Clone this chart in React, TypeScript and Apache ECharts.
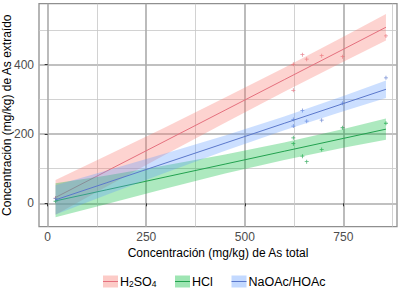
import React, { useEffect, useRef } from "react";
import * as echarts from "echarts";

// ---- data ----
const groupNames = ["H2SO4", "HCl", "NaOAc/HOAc"];
const legendLabels = ["{n|H}{s|2}{n|SO}{s|4}", "HCl", "NaOAc/HOAc"];
const lineColors = ["#E5707E", "#22A24F", "#5B78CC"];
const bandColors = ["#F8766D", "#00BA38", "#619CFF"];

const xTicks = [0, 250, 500, 750];
const xMinorTicks = [125, 375, 625, 875];
const yTicks = [0, 200, 400];
const yMinorTicks = [100, 300, 500];

// observed points
const ptX = [20, 623, 623, 646, 657, 695, 748, 858];
const ptH2SO4 = [15, 401, 326, 429, 416, 426, 423, 483];
const ptHCl = [6, 189, 172, 136, 120, 155, 218, 231];
const ptNaOAc = [14, 242, 223, 268, 237, 240, 289, 362];

// fitted lines and confidence bands
const fitX = [20, 150, 300, 450, 600, 750, 858];
const fitH2SO4 = [17, 93.2, 180.9, 268.8, 356.7, 444.6, 508.1];
const loH2SO4 = [-33, 48.5, 141.3, 232.6, 321.9, 408.7, 470.1];
const hiH2SO4 = [67, 137.9, 220.5, 305, 391.5, 480.5, 546.1];
const fitHCl = [7, 39.1, 76.2, 113.2, 150.3, 187.3, 214];
const loHCl = [-40, -2.2, 42.8, 85.7, 125.3, 160.3, 183.3];
const hiHCl = [58, 80.4, 109.6, 140.7, 175.3, 214.3, 244.7];
const fitNaOAc = [10, 59.5, 116.6, 173.7, 230.8, 287.9, 329];
const loNaOAc = [-32, 24.5, 88.8, 151.4, 210.8, 266, 303.6];
const hiNaOAc = [52, 94.5, 144.4, 196, 250.8, 309.8, 354.4];

const xMin = -22;
const xMax = 886;
const yMin = -67.5;
const yMax = 576;

const FONT = "Liberation Sans, Arial, sans-serif";

export default function App() {
  const ref = useRef<HTMLDivElement>(null);

  useEffect(() => {
    if (!ref.current) return;
    const chart = echarts.init(ref.current, undefined, { renderer: "svg" });

    const pts = [ptH2SO4, ptHCl, ptNaOAc];
    const fits = [fitH2SO4, fitHCl, fitNaOAc];
    const los = [loH2SO4, loHCl, loNaOAc];
    const his = [hiH2SO4, hiHCl, hiNaOAc];

    const plus = "path://M2,0H3V2H5V3H3V5H2V3H0V2H2Z";

    const series: any[] = [];
    groupNames.forEach((name, g) => {
      series.push({
        type: "scatter",
        name: name + " pts",
        xAxisIndex: 0,
        yAxisIndex: 0,
        data: ptX.map((x, i) => [x, pts[g][i]]),
        symbol: plus,
        symbolSize: 4,
        itemStyle: { color: lineColors[g] },
        z: 2,
      });
    });
    groupNames.forEach((name, g) => {
      series.push({
        type: "custom",
        name: name + " band",
        xAxisIndex: 0,
        yAxisIndex: 0,
        data: [[fitX[0], fits[g][0]]],
        z: 3 + g * 2,
        renderItem: (_p: any, api: any) => {
          const poly: number[][] = [];
          for (let i = 0; i < fitX.length; i++) poly.push(api.coord([fitX[i], his[g][i]]));
          for (let i = fitX.length - 1; i >= 0; i--) poly.push(api.coord([fitX[i], los[g][i]]));
          return {
            type: "polygon",
            shape: { points: poly },
            style: { fill: bandColors[g], opacity: 0.32 },
          };
        },
      });
      series.push({
        type: "line",
        name,
        xAxisIndex: 0,
        yAxisIndex: 0,
        data: fitX.map((x, i) => [x, fits[g][i]]),
        showSymbol: false,
        symbol: "none",
        lineStyle: { color: lineColors[g], width: 1 },
        z: 4 + g * 2,
      });
    });

    // legend built from group names
    const legendX = [103, 175, 231.5];
    const legendY = 275.5;
    const legendEls: any[] = [];
    groupNames.forEach((_n, g) => {
      legendEls.push({
        type: "rect",
        shape: { x: legendX[g], y: legendY, width: 15, height: 12 },
        style: { fill: bandColors[g], opacity: 0.38 },
      });
      legendEls.push({
        type: "line",
        shape: { x1: legendX[g], y1: legendY + 6, x2: legendX[g] + 15, y2: legendY + 6 },
        style: { stroke: lineColors[g], lineWidth: 1 },
      });
      legendEls.push({
        type: "text",
        x: legendX[g] + 17,
        y: legendY + 6,
        style: {
          text: legendLabels[g],
          fontSize: 12.5,
          fontFamily: FONT,
          fill: "#000",
          verticalAlign: "middle",
          textAlign: "left",
          rich: {
            n: { fontSize: 12.5, fontFamily: FONT, fill: "#000", lineHeight: 14, verticalAlign: "middle" },
            s: { fontSize: 8.5, fontFamily: FONT, fill: "#000", lineHeight: 14, verticalAlign: "bottom" },
          },
        },
      });
    });

    const axisText = { fontSize: 12, fontFamily: FONT, color: "#4D4D4D" };

    chart.setOption({
      animation: false,
      grid: {
        left: 39,
        top: 3.7,
        width: 358,
        height: 223,
        show: true,
        borderColor: "#8f8f8f",
        borderWidth: 1.3,
        backgroundColor: "#fff",
        containLabel: false,
        outerBoundsMode: "none",
      },
      xAxis: [
        {
          type: "value",
          min: xMin,
          max: xMax,
          minInterval: 250,
          maxInterval: 250,
          axisLine: { show: false },
          axisTick: { show: true, length: 3, customValues: xTicks, lineStyle: { color: "#333" } },
          axisLabel: { ...axisText, margin: 4, customValues: xTicks },
          splitLine: { show: true, lineStyle: { color: "#ababab", width: 1.6 } },
          name: "Concentración (mg/kg) de As total",
          nameLocation: "middle",
          nameGap: 20,
          nameMoveOverlap: false,
          nameTextStyle: { fontSize: 12, fontFamily: FONT, color: "#000" },
        },
        {
          type: "value",
          min: xMin,
          max: xMax,
          minInterval: 125,
          maxInterval: 125,
          position: "bottom",
          axisLine: { show: false },
          axisTick: { show: false, customValues: xMinorTicks },
          axisLabel: { show: false, customValues: xMinorTicks },
          splitLine: { show: true, lineStyle: { color: "#c6c6c6", width: 0.8 } },
        },
      ],
      yAxis: [
        {
          type: "value",
          min: yMin,
          max: yMax,
          minInterval: 200,
          maxInterval: 200,
          axisLine: { show: false },
          axisTick: { show: true, length: 3, customValues: yTicks, lineStyle: { color: "#333" } },
          axisLabel: { ...axisText, margin: 5, customValues: yTicks },
          splitLine: { show: true, lineStyle: { color: "#ababab", width: 1.6 } },
          name: "Concentración (mg/kg) de As extraído",
          nameLocation: "middle",
          nameGap: 26,
          nameMoveOverlap: false,
          nameTextStyle: { fontSize: 12, fontFamily: FONT, color: "#000" },
        },
        {
          type: "value",
          min: yMin,
          max: yMax,
          minInterval: 100,
          maxInterval: 100,
          position: "left",
          axisLine: { show: false },
          axisTick: { show: false, customValues: yMinorTicks },
          axisLabel: { show: false, customValues: yMinorTicks },
          splitLine: { show: true, lineStyle: { color: "#c6c6c6", width: 0.8 } },
        },
      ],
      series,
      graphic: legendEls,
    });

    return () => chart.dispose();
  }, []);

  return <div ref={ref} style={{ width: 400, height: 288, position: "absolute", left: 0, top: 0 }} />;
}
